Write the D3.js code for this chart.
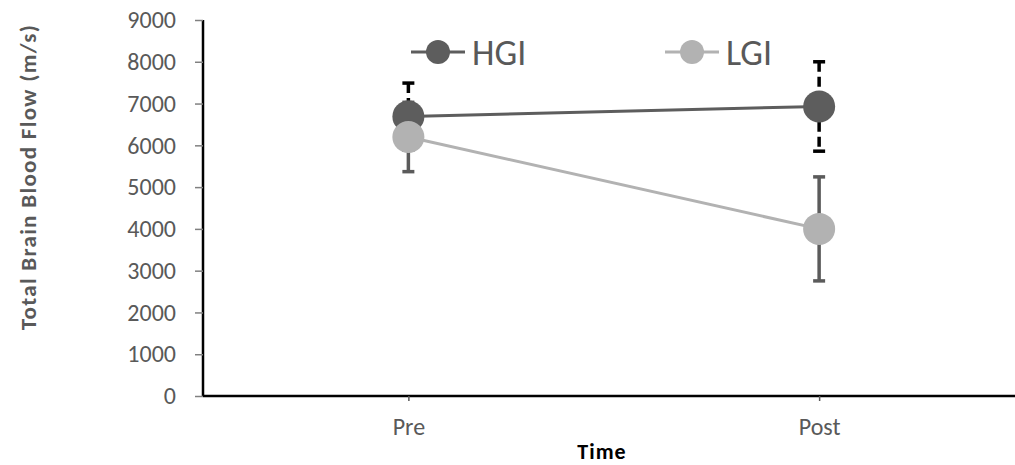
<!DOCTYPE html>
<html>
<head>
<meta charset="utf-8">
<script src="https://cdn.jsdelivr.net/npm/d3@7"></script>
<style>
  body { margin: 0; background: #fff; }
  svg { display: block; font-family: Carlito, Calibri, Lato, sans-serif; }
</style>
</head>
<body>
<svg id="chart" width="1015" height="465"></svg>
<script>
const categories = ['Pre', 'Post']
const yTicks = [0, 1000, 2000, 3000, 4000, 5000, 6000, 7000, 8000, 9000]
const hgiMean = [6690, 6930]
const hgiErr = [800, 1070]
const lgiMean = [6200, 4000]
const lgiErr = [830, 1245]

const series = [
  { name: 'HGI', mean: hgiMean, err: hgiErr, color: '#5d5d5d', errColor: '#000', dash: '10,5' },
  { name: 'LGI', mean: lgiMean, err: lgiErr, color: '#b2b2b2', errColor: '#5b5b5b', dash: null }
]

const fontFamily = 'Carlito, Calibri, Lato, sans-serif'
const margin = { top: 20, right: 0, bottom: 69, left: 203 }
const width = 1015
const height = 465

const svg = d3.select('#chart')

const x = d3.scalePoint()
  .domain(categories)
  .range([margin.left, 1024.5])
  .padding(0.5)

const y = d3.scaleLinear()
  .domain([0, 9000])
  .range([height - margin.bottom, margin.top])

// y axis
const yAxis = svg.append('g')
  .attr('transform', `translate(${margin.left},0)`)
  .call(d3.axisLeft(y).tickValues(yTicks).tickFormat(d3.format('d')).tickSize(8).tickPadding(19))
yAxis.attr('font-family', fontFamily).attr('font-size', 24)
yAxis.select('.domain').attr('stroke', '#000').attr('stroke-width', 2.5)
  .attr('d', `M0,${y(9000)}V${y(0)}`)
yAxis.selectAll('.tick line').attr('stroke', '#808080').attr('stroke-width', 1.5)
yAxis.selectAll('.tick text').attr('fill', '#595959')

// x axis
const xAxis = svg.append('g')
  .attr('transform', `translate(0,${y(0)})`)
  .call(d3.axisBottom(x).tickSize(5).tickPadding(17))
xAxis.attr('font-family', fontFamily).attr('font-size', 24)
xAxis.select('.domain').attr('stroke', '#000').attr('stroke-width', 2.5)
  .attr('d', `M${margin.left},0H${width}`)
xAxis.selectAll('.tick line').attr('stroke', '#595959').attr('stroke-width', 1.5)
xAxis.selectAll('.tick text').attr('fill', '#595959')

// axis titles
svg.append('text')
  .attr('transform', `translate(36,177) rotate(-90)`)
  .attr('text-anchor', 'middle')
  .attr('font-weight', 'bold')
  .attr('font-size', 23)
  .attr('letter-spacing', 1.3)
  .attr('fill', '#595959')
  .text('Total Brain Blood Flow (m/s)')

svg.append('text')
  .attr('x', 602)
  .attr('y', 459)
  .attr('text-anchor', 'middle')
  .attr('font-weight', 'bold')
  .attr('font-size', 22)
  .attr('letter-spacing', 1)
  .attr('fill', '#000')
  .text('Time')

// error bars
series.forEach(s => {
  const g = svg.append('g')
  categories.forEach((c, i) => {
    const cx = x(c)
    const hi = y(s.mean[i] + s.err[i])
    const lo = y(s.mean[i] - s.err[i])
    g.append('line')
      .attr('x1', cx).attr('x2', cx)
      .attr('y1', hi).attr('y2', lo)
      .attr('stroke', s.errColor)
      .attr('stroke-width', 3.5)
      .attr('stroke-dasharray', s.dash)
    ;[hi, lo].forEach(v => {
      g.append('line')
        .attr('x1', cx - 6).attr('x2', cx + 6)
        .attr('y1', v).attr('y2', v)
        .attr('stroke', s.errColor)
        .attr('stroke-width', 3.5)
    })
  })
})

// lines and markers
const line = d3.line()
  .x((d, i) => x(categories[i]))
  .y(d => y(d))

series.forEach(s => {
  svg.append('path')
    .datum(s.mean)
    .attr('fill', 'none')
    .attr('stroke', s.color)
    .attr('stroke-width', 3)
    .attr('d', line)
})

series.forEach(s => {
  s.mean.forEach((v, i) => {
    svg.append('circle')
      .attr('cx', x(categories[i]))
      .attr('cy', y(v))
      .attr('r', 16)
      .attr('fill', s.color)
  })
})

// legend
const legendX = [411, 665]
series.forEach((s, i) => {
  const g = svg.append('g').attr('transform', `translate(${legendX[i]},52)`)
  g.append('line')
    .attr('x1', 0).attr('x2', 54)
    .attr('stroke', s.color)
    .attr('stroke-width', 3)
  g.append('circle')
    .attr('cx', 27)
    .attr('r', 12)
    .attr('fill', s.color)
  g.append('text')
    .attr('x', 61)
    .attr('y', 12.5)
    .attr('font-size', 36)
    .attr('fill', '#595959')
    .text(s.name)
})
</script>
</body>
</html>
